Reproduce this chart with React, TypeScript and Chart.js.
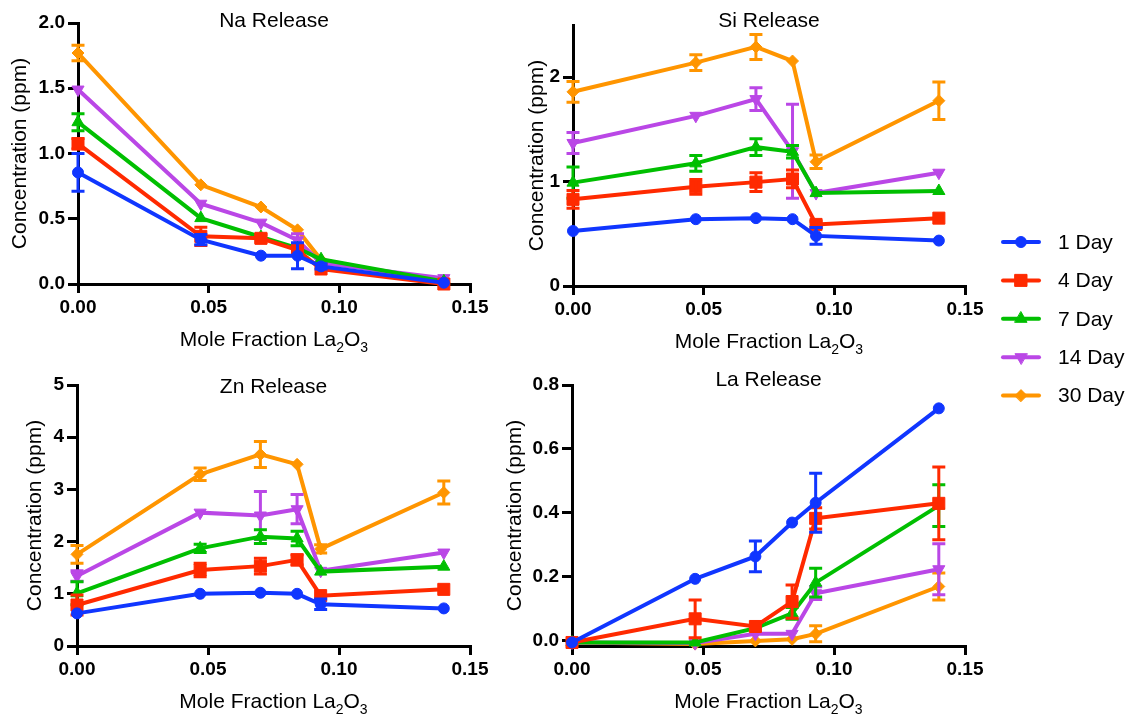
import { useEffect, useRef } from 'react';
import { Chart, registerables } from 'chart.js';
import { drawPoint } from 'chart.js/helpers';

Chart.register(...registerables);

const FONT = '"Liberation Sans", Arial, Helvetica, sans-serif';

// ---------- shared data ----------
const xValues = [0, 0.047, 0.07, 0.084, 0.093, 0.14];
const xTicks = [0, 0.05, 0.1, 0.15];
const seriesLabels = ['1 Day', '4 Day', '7 Day', '14 Day', '30 Day'];
const seriesColors = ['#1036FF', '#FF2A00', '#00BF00', '#BA47E6', '#FF9500'];
const seriesMarkers = ['circle', 'rect', 'triangle', 'triangle', 'rectRot'];
const markerRotations = [0, 0, 0, 180, 0];
const markerRadii = [5.5, 8.5, 7, 7, 6];

// ---------- Na release ----------
const naMeans = [
  [0.855, 0.34, 0.217, 0.217, 0.135, 0.01],
  [1.075, 0.365, 0.35, 0.26, 0.115, 0.0],
  [1.24, 0.505, 0.36, 0.275, 0.19, 0.02],
  [1.49, 0.615, 0.47, 0.335, 0.16, 0.045],
  [1.77, 0.76, 0.59, 0.415, 0.185, 0.012],
];
const naErrors = [
  [0.145, 0.04, 0, 0.1, 0.02, 0],
  [0.04, 0.07, 0.03, 0.03, 0, 0],
  [0.065, 0, 0, 0, 0, 0],
  [0, 0, 0, 0.05, 0, 0],
  [0.06, 0, 0, 0, 0, 0],
];
const naTicks = [0, 0.5, 1, 1.5, 2];

// ---------- Si release ----------
const siMeans = [
  [0.527, 0.64, 0.65, 0.64, 0.48, 0.435],
  [0.83, 0.95, 0.995, 1.025, 0.59, 0.65],
  [0.99, 1.175, 1.33, 1.285, 0.89, 0.91],
  [1.37, 1.63, 1.79, 1.29, 0.89, 1.085],
  [1.86, 2.14, 2.29, 2.155, 1.19, 1.775],
];
const siErrors = [
  [0, 0, 0, 0, 0.08, 0],
  [0.085, 0.07, 0.09, 0.085, 0.03, 0],
  [0.15, 0.075, 0.08, 0.06, 0, 0],
  [0.1, 0, 0.11, 0.45, 0, 0],
  [0.1, 0.075, 0.12, 0, 0.065, 0.18],
];
const siTicks = [0, 1, 2];

// ---------- Zn release ----------
const znMeans = [
  [0.625, 1.0, 1.02, 1.0, 0.8, 0.72],
  [0.785, 1.455, 1.53, 1.65, 0.965, 1.085],
  [1.01, 1.87, 2.095, 2.06, 1.425, 1.52],
  [1.34, 2.555, 2.5, 2.62, 1.44, 1.79],
  [1.756, 3.29, 3.67, 3.48, 1.86, 2.94],
];
const znErrors = [
  [0, 0, 0, 0, 0.1, 0],
  [0.19, 0.13, 0.15, 0.1, 0, 0],
  [0.22, 0.08, 0.13, 0.14, 0, 0],
  [0.1, 0, 0.46, 0.28, 0, 0],
  [0.17, 0.12, 0.25, 0, 0.08, 0.22],
];
const znTicks = [0, 1, 2, 3, 4, 5];

// ---------- La release ----------
const laMeans = [
  [-0.005, 0.194, 0.264, 0.37, 0.432, 0.727],
  [-0.005, 0.069, 0.045, 0.123, 0.383, 0.43],
  [-0.005, -0.005, 0.04, 0.086, 0.182, 0.423],
  [-0.005, -0.007, 0.022, 0.022, 0.149, 0.224],
  [-0.005, -0.01, 0.0, 0.005, 0.022, 0.17],
];
const laErrors = [
  [0, 0, 0.048, 0, 0.092, 0],
  [0, 0.059, 0, 0.052, 0.033, 0.114],
  [0, 0, 0, 0.018, 0.045, 0.065],
  [0, 0, 0, 0, 0.02, 0.08],
  [0, 0, 0, 0, 0.025, 0.042],
];
const laTicks = [0, 0.2, 0.4, 0.6, 0.8];

// ---------- layout of panels ----------
const panels = [
  { key: 'na', title: 'Na Release', means: naMeans, errors: naErrors, yTicks: naTicks, yMin: 0, yMax: 2, dec: 1,
    left: 0, top: 0, w: 500, h: 360, pad: { left: 78, top: 23, right: 30, bottom: 76 }, titleY: 27, yTitleX: 20 },
  { key: 'si', title: 'Si Release', means: siMeans, errors: siErrors, yTicks: siTicks, yMin: 0, yMax: 2.5, dec: 0,
    left: 500, top: 0, w: 500, h: 360, pad: { left: 73, top: 25, right: 35, bottom: 74 }, titleY: 27, yTitleX: 37 },
  { key: 'zn', title: 'Zn Release', means: znMeans, errors: znErrors, yTicks: znTicks, yMin: 0, yMax: 5, dec: 0,
    left: 0, top: 360, w: 500, h: 357, pad: { left: 77, top: 25, right: 30, bottom: 71 }, titleY: 33, yTitleX: 35 },
  { key: 'la', title: 'La Release', means: laMeans, errors: laErrors, yTicks: laTicks, yMin: -0.016, yMax: 0.8, dec: 1,
    left: 500, top: 360, w: 500, h: 357, pad: { left: 72, top: 25, right: 35, bottom: 71 }, titleY: 26, yTitleX: 15 },
];

const errorBarPlugin = {
  id: 'errorBars',
  afterDatasetDraw(chart: any, args: any) {
    const ds = chart.data.datasets[args.index];
    const errs: number[] = ds.errors;
    if (!errs) return;
    const ctx = chart.ctx;
    const ys = chart.scales.y;
    ctx.save();
    ctx.strokeStyle = ds.borderColor;
    ctx.lineWidth = 3;
    ctx.lineCap = 'butt';
    args.meta.data.forEach((pt: any, j: number) => {
      const e = errs[j];
      if (!e) return;
      const v = ds.data[j].y;
      const t = ys.getPixelForValue(v + e);
      const b = ys.getPixelForValue(v - e);
      const cw = 6.5;
      ctx.beginPath();
      ctx.moveTo(pt.x, t);
      ctx.lineTo(pt.x, b);
      ctx.moveTo(pt.x - cw, t);
      ctx.lineTo(pt.x + cw, t);
      ctx.moveTo(pt.x - cw, b);
      ctx.lineTo(pt.x + cw, b);
      ctx.stroke();
    });
    ctx.restore();
  },
};

const panelTextPlugin = {
  id: 'panelText',
  afterDraw(chart: any, _args: any, opts: any) {
    const { ctx, chartArea } = chart;
    const cx = (chartArea.left + chartArea.right) / 2;
    ctx.save();
    ctx.fillStyle = '#000';
    ctx.textBaseline = 'alphabetic';
    ctx.textAlign = 'left';
    // panel title
    ctx.font = `21px ${FONT}`;
    const tw = ctx.measureText(opts.title).width;
    ctx.fillText(opts.title, cx - tw / 2, opts.titleY);
    // x title with subscripts
    const parts: [string, boolean][] = [['Mole Fraction La', false], ['2', true], ['O', false], ['3', true]];
    const big = `21px ${FONT}`;
    const small = `14px ${FONT}`;
    let total = 0;
    parts.forEach(([s, sub]) => { ctx.font = sub ? small : big; total += ctx.measureText(s).width; });
    let x = cx - total / 2;
    const base = chartArea.bottom + 62;
    parts.forEach(([s, sub]) => {
      ctx.font = sub ? small : big;
      ctx.fillText(s, x, sub ? base + 6 : base);
      x += ctx.measureText(s).width;
    });
    // y title
    ctx.font = big;
    ctx.translate(opts.yTitleX, (chartArea.top + chartArea.bottom) / 2);
    ctx.rotate(-Math.PI / 2);
    ctx.textAlign = 'center';
    ctx.textBaseline = 'middle';
    ctx.fillText('Concentration (ppm)', 0, 0);
    ctx.restore();
  },
};

function buildConfig(p: any): any {
  return {
    type: 'line',
    data: {
      datasets: seriesLabels.map((label, i) => ({
        label,
        data: xValues.map((x, j) => ({ x, y: p.means[i][j] })),
        errors: p.errors[i],
        borderColor: seriesColors[i],
        backgroundColor: seriesColors[i],
        borderWidth: 4,
        pointStyle: seriesMarkers[i],
        pointRotation: markerRotations[i],
        pointRadius: markerRadii[i],
        pointBorderWidth: 1,
        pointBorderColor: seriesColors[i],
        pointBackgroundColor: seriesColors[i],
        tension: 0,
        clip: false,
      })),
    },
    options: {
      animation: false,
      responsive: false,
      events: [],
      layout: { padding: { left: 0, top: p.pad.top, right: p.pad.right, bottom: 0 } },
      plugins: {
        legend: { display: false },
        tooltip: { enabled: false },
        title: { display: false },
        panelText: { title: p.title, titleY: p.titleY, yTitleX: p.yTitleX },
      },
      scales: {
        x: {
          type: 'linear',
          min: 0,
          max: 0.15,
          afterBuildTicks: (s: any) => { s.ticks = xTicks.map((v) => ({ value: v })); },
          afterFit: (s: any) => { s.height = p.pad.bottom; s.paddingLeft = 0; s.paddingRight = 0; },
          grid: { drawOnChartArea: false, drawTicks: true, tickLength: 9, lineWidth: 3, color: '#000' },
          border: { display: true, width: 3, color: '#000' },
          ticks: {
            color: '#000', padding: 3, maxRotation: 0, autoSkip: false,
            font: { family: FONT, size: 19, weight: 'bold' },
            callback: (v: number) => v.toFixed(2),
          },
        },
        y: {
          type: 'linear',
          min: p.yMin,
          max: p.yMax,
          afterBuildTicks: (s: any) => { s.ticks = p.yTicks.map((v: number) => ({ value: v })); },
          afterFit: (s: any) => { s.width = p.pad.left; s.paddingTop = 0; s.paddingBottom = 0; },
          grid: { drawOnChartArea: false, drawTicks: true, tickLength: 10, lineWidth: 3, color: '#000' },
          border: { display: true, width: 3, color: '#000' },
          ticks: {
            color: '#000', padding: 3, autoSkip: false,
            font: { family: FONT, size: 19, weight: 'bold' },
            callback: (v: number) => v.toFixed(p.dec),
          },
        },
      },
    },
    plugins: [errorBarPlugin, panelTextPlugin],
  };
}

function Panel({ p }: { p: any }) {
  const ref = useRef<HTMLCanvasElement>(null);
  useEffect(() => {
    const chart = new Chart(ref.current as HTMLCanvasElement, buildConfig(p));
    return () => chart.destroy();
  }, []);
  return (
    <canvas
      ref={ref}
      width={p.w}
      height={p.h}
      style={{ position: 'absolute', left: p.left, top: p.top, width: p.w, height: p.h }}
    />
  );
}

const legendPlugin = {
  id: 'lineMarkerLegend',
  afterDraw(chart: any) {
    const ctx = chart.ctx;
    ctx.save();
    chart.data.datasets.forEach((ds: any, i: number) => {
      const y = 22 + i * 38.4;
      ctx.strokeStyle = ds.borderColor;
      ctx.lineWidth = 4;
      ctx.lineCap = 'round';
      ctx.beginPath();
      ctx.moveTo(23, y);
      ctx.lineTo(59, y);
      ctx.stroke();
      ctx.fillStyle = ds.backgroundColor;
      ctx.lineWidth = 1;
      drawPoint(ctx, { pointStyle: ds.pointStyle, rotation: ds.pointRotation, radius: ds.pointRadius, borderWidth: 1 } as any, 41, y);
      ctx.fillStyle = '#000';
      ctx.font = `21px ${FONT}`;
      ctx.textAlign = 'left';
      ctx.textBaseline = 'middle';
      ctx.fillText(ds.label, 78, y + 1);
    });
    ctx.restore();
  },
};

function Legend() {
  const ref = useRef<HTMLCanvasElement>(null);
  useEffect(() => {
    const chart = new Chart(ref.current as HTMLCanvasElement, {
      type: 'line',
      data: {
        datasets: seriesLabels.map((label, i) => ({
          label,
          data: [],
          borderColor: seriesColors[i],
          backgroundColor: seriesColors[i],
          pointStyle: seriesMarkers[i],
          pointRotation: markerRotations[i],
          pointRadius: markerRadii[i],
        })),
      } as any,
      options: {
        animation: false,
        responsive: false,
        events: [],
        plugins: { legend: { display: false }, tooltip: { enabled: false } },
        scales: { x: { display: false }, y: { display: false } },
      },
      plugins: [legendPlugin],
    } as any);
    return () => chart.destroy();
  }, []);
  return (
    <canvas
      ref={ref}
      width={160}
      height={200}
      style={{ position: 'absolute', left: 980, top: 220, width: 160, height: 200 }}
    />
  );
}

export default function App() {
  return (
    <div style={{ position: 'fixed', left: 0, top: 0, width: 1140, height: 717, background: '#fff' }}>
      {panels.map((p) => (
        <Panel key={p.key} p={p} />
      ))}
      <Legend />
    </div>
  );
}
